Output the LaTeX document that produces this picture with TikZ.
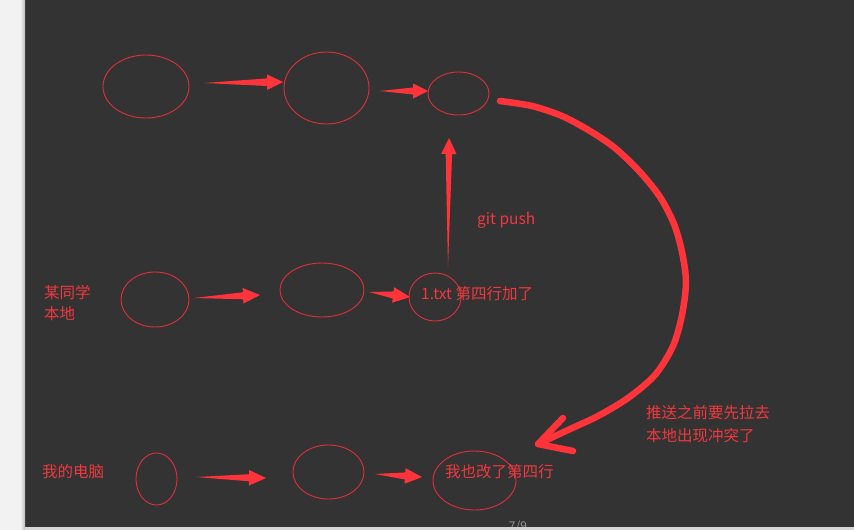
\documentclass[tikz,border=0pt]{standalone}
\usepackage{fontspec}
\setmainfont{Noto Sans CJK SC}
\usetikzlibrary{calc,shapes.geometric}
\definecolor{bgdark}{HTML}{333333}
\definecolor{bgleft}{HTML}{F2F2F2}
\definecolor{bgbottom}{HTML}{D6D6D6}
\definecolor{ellred}{RGB}{222,48,58}
\definecolor{arrred}{RGB}{255,52,58}
\definecolor{txtred}{RGB}{240,56,62}
\definecolor{pagegrey}{RGB}{150,150,150}
\newcommand\fatarrow[5]{% tail, tip, head length, head half width, shaft half width
  \path ($(#2)!#3!(#1)$) coordinate (fa-h);
  \fill[arrred] (#1) -- ($(fa-h)!#5!90:(#2)$) -- ($(fa-h)!#4!90:(#2)$) -- (#2)
    -- ($(fa-h)!#4!-90:(#2)$) -- ($(fa-h)!#5!-90:(#2)$) -- cycle;
}
\begin{document}
\begin{tikzpicture}[x=1pt,y=-1pt,
  ell/.style={draw=ellred, line width=0.9pt, ellipse, inner sep=0pt},
  lbl/.style={text=txtred, font=\fontsize{15.5}{21}\selectfont, inner sep=0pt, anchor=west, align=left},
  bigstroke/.style={draw=arrred, line width=6.5pt, line cap=round, line join=round}]
\useasboundingbox (0,0) rectangle (854,530);
\fill[bgdark] (0,0) rectangle (854,530);
\fill[bgleft] (0,0) rectangle (25,530);
\shade[left color=bgleft, right color=black!25] (20,0) rectangle (25,530);
% row 1
\node[ell, minimum width=86pt, minimum height=63pt] (a1) at (146,86.5) {};
\node[ell, minimum width=85pt, minimum height=72pt] (a2) at (326.5,88) {};
\node[ell, minimum width=61pt, minimum height=43pt] (a3) at (458.5,93.5) {};
\coordinate (a1s) at (204,83); \coordinate (a1e) at (283,82);
\coordinate (a2s) at (380,91); \coordinate (a2e) at (428,91);
\fatarrow{a1s}{a1e}{16pt}{7.8pt}{3.8pt}
\fatarrow{a2s}{a2e}{15pt}{7.5pt}{3.5pt}
% row 2
\node[lbl] (t1) at (44,303.5) {某同学\\本地};
\node[ell, minimum width=68pt, minimum height=55pt] (b1) at (155,299.5) {};
\node[ell, minimum width=84pt, minimum height=54pt] (b2) at (322,290) {};
\node[ell, minimum width=52pt, minimum height=48pt] (b3) at (435,297) {};
\node[lbl] (t2) at (421,294) {1.txt 第四行加了};
\coordinate (b1s) at (194,298); \coordinate (b1e) at (260,295);
\coordinate (b2s) at (369,292); \coordinate (b2e) at (410,297);
\fatarrow{b1s}{b1e}{17pt}{7.8pt}{3.5pt}
\fatarrow{b2s}{b2e}{17pt}{7.8pt}{3.5pt}
\coordinate (ps) at (448,267); \coordinate (pe) at (449,138);
\fatarrow{ps}{pe}{16pt}{7.7pt}{3.2pt}
\node[lbl] (t3) at (477,220) {git push};
% row 3
\node[lbl] (t4) at (42,472) {我的电脑};
\node[ell, minimum width=41pt, minimum height=52pt] (c1) at (156.5,479) {};
\node[ell, minimum width=71pt, minimum height=54pt] (c2) at (328.5,472) {};
\node[ell, minimum width=83pt, minimum height=59pt] (c3) at (474.5,480.5) {};
\node[lbl] (t5) at (445,472) {我也改了第四行};
\coordinate (c1s) at (196,477); \coordinate (c1e) at (266,478);
\coordinate (c2s) at (375,474); \coordinate (c2e) at (422,477);
\fatarrow{c1s}{c1e}{17pt}{7.8pt}{3.5pt}
\fatarrow{c2s}{c2e}{17pt}{7.8pt}{3.5pt}
% big curved arrow
\coordinate (cs) at (500,101);
\coordinate (ce) at (538,444);
\draw[bigstroke] plot[smooth, tension=0.5] coordinates {(cs) (532,106) (562,116) (590,131) (615,148) (640,172) (660,197) (674,224) (682,252) (686,282) (682,315) (673,346) (655,375) (628,398) (598,416) (568,430) (ce)};
\coordinate (hu) at (563,418);
\coordinate (hl) at (573,451);
\draw[bigstroke] (hu) -- (ce) -- (hl);
\node[lbl, font=\fontsize{15.5}{23}\selectfont] (t6) at (646,424.5) {推送之前要先拉去\\本地出现冲突了};
% page footer
\node[text=pagegrey, font=\fontsize{12}{14}\selectfont, inner sep=0pt, anchor=base] (pg) at (518,530) {7/9};
\fill[bgbottom] (25,526.5) rectangle (854,530);
\end{tikzpicture}
\end{document}
